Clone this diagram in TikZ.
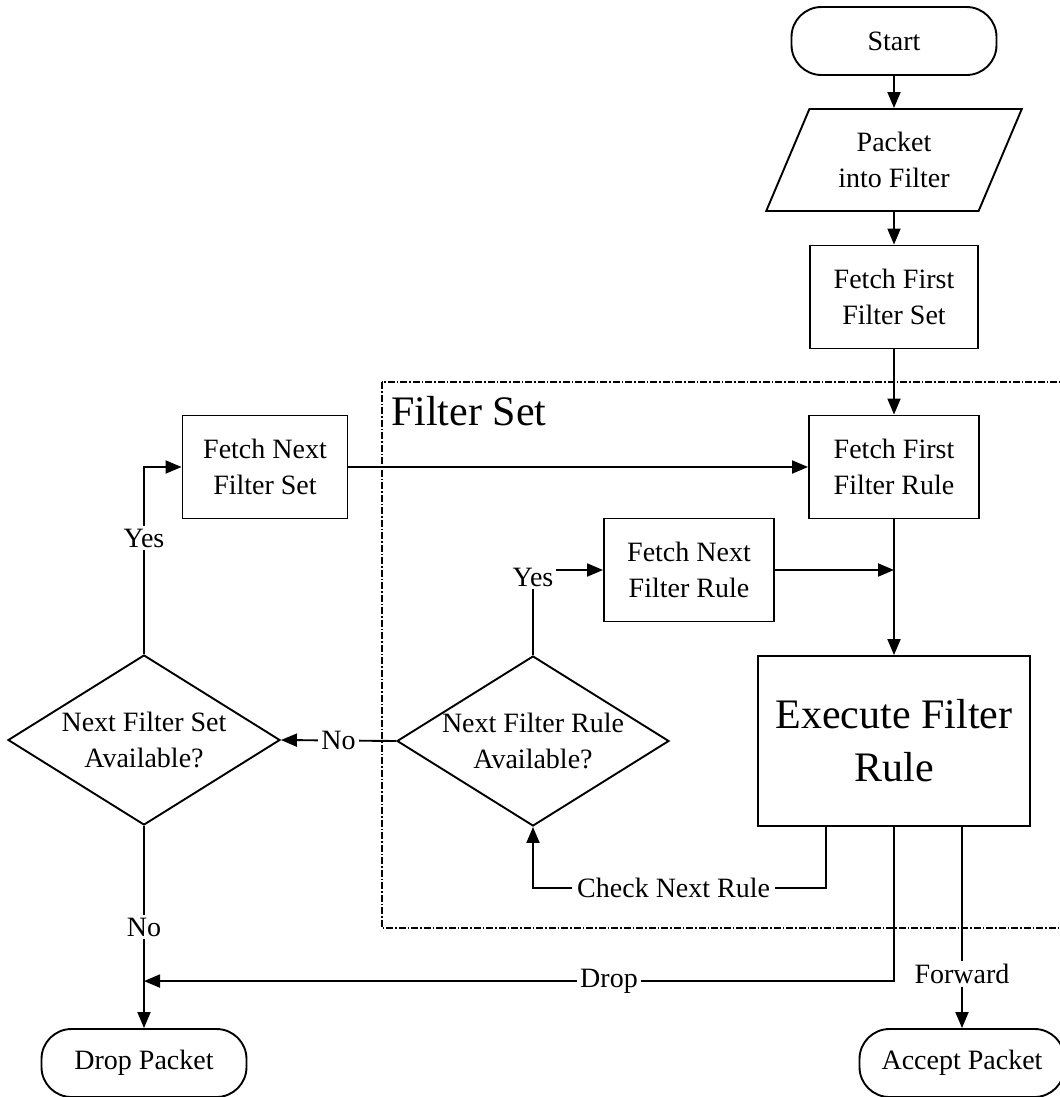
\documentclass[tikz,border=0pt]{standalone}
\usepackage{fontspec}
\setmainfont{Liberation Serif}
\usetikzlibrary{shapes.geometric,arrows.meta,calc}

\tikzset{
	flow/.style={draw, line width=1.9bp, inner sep=0pt, align=center, font=\fontsize{28bp}{36bp}\selectfont},
	terminal/.style={flow, rectangle, rounded corners=30bp, minimum width=205bp, minimum height=68bp},
	inout/.style={flow, trapezium, trapezium left angle=63, trapezium right angle=117, trapezium stretches=true, minimum width=256bp, minimum height=102bp},
	process/.style={flow, rectangle, minimum width=168bp, minimum height=103bp},
	decision/.style={flow, diamond, aspect=1.6, inner sep=-20bp, minimum width=272bp, minimum height=170bp},
	conn/.style={line width=1.9bp, -{Triangle[length=16bp,width=13bp]}},
	lbl/.style={fill=white, inner sep=3bp, font=\fontsize{28bp}{36bp}\selectfont},
	setbox/.style={line width=1.4bp, dash pattern=on 7bp off 2bp on 1.5bp off 2bp},
}

\begin{document}
\begin{tikzpicture}[x=1bp,y=-1bp]
			%%%%% START %%%%%
			\useasboundingbox (0,0) rectangle (1060,1097);
			
			\draw[setbox] (382,382) rectangle (1080,928);
			\node[anchor=base west, inner sep=0pt, font=\fontsize{42bp}{53bp}\selectfont] (fsname) at (391,425) {Filter Set};
			
			\node[terminal] (start) at (894,41) {Start};
			\node[inout] (pktin) at (894,160) {Packet\\into Filter};
			\node[process] (fset1) at (894,297) {Fetch First\\Filter Set};
			\node[process, minimum width=170bp] (frule1) at (894,467) {Fetch First\\Filter Rule};
			\node[process, minimum width=165bp] (nextset) at (265,467) {Fetch Next\\Filter Set};
			\node[process, minimum width=170bp] (nextrule) at (689,570) {Fetch Next\\Filter Rule};
			\node[process, minimum width=272bp, minimum height=170bp, font=\fontsize{42bp}{53bp}\selectfont] (exec) at (894,741) {Execute Filter\\Rule};
			
			\node[decision] (ruleq) at (533,741) {Next Filter Rule\\Available?};
			\node[decision] (setq) at (144,740) {Next Filter Set\\Available?};
			
			\node[terminal] (drop) at (144,1063) {Drop Packet};
			\node[terminal] (accept) at (962,1063) {Accept Packet};
			
			% main line
			\draw[conn] (start.south) -- (start.south |- pktin.north);
			\draw[conn] (fset1.north |- pktin.south) -- (fset1.north);
			\draw[conn] (fset1) -- (frule1);
			\draw[conn] (frule1) -- (exec);
			\draw[conn] (nextset.east) -- (nextset.east -| frule1.west);
			\draw[conn] (nextrule.east) -- (nextrule.east -| frule1.south);
			
			% decisions
			\draw[conn] (ruleq.north) |- node[lbl, pos=0.5, yshift=-7bp] {Yes} (nextrule.west);
			\draw[conn] (ruleq.west) -- node[lbl] {No} (setq.east);
			\draw[conn] (setq.north) |- node[lbl, pos=0.31] {Yes} (nextset.west);
			\draw[conn] (setq.south) -- node[lbl] {No} (drop.north);
			
			% results of the rule
			\coordinate (chk) at ($(exec.south)+(-68,0)$);
			\coordinate (fwd) at ($(exec.south)+(68,0)$);
			\coordinate (dropin) at ($(drop.north)+(0,-47)$);
			\draw[conn] (chk) -- ++(0,61) -| node[lbl, pos=0.26, inner xsep=5bp] {Check Next Rule} (ruleq.south);
			\draw[conn] (exec.south) |- node[lbl, pos=0.69] {Drop} (dropin);
			\draw[conn] (fwd) -- node[lbl, pos=0.73] {Forward} (accept.north);
			
			%%%%% END %%%%%
\end{tikzpicture}
\end{document}
